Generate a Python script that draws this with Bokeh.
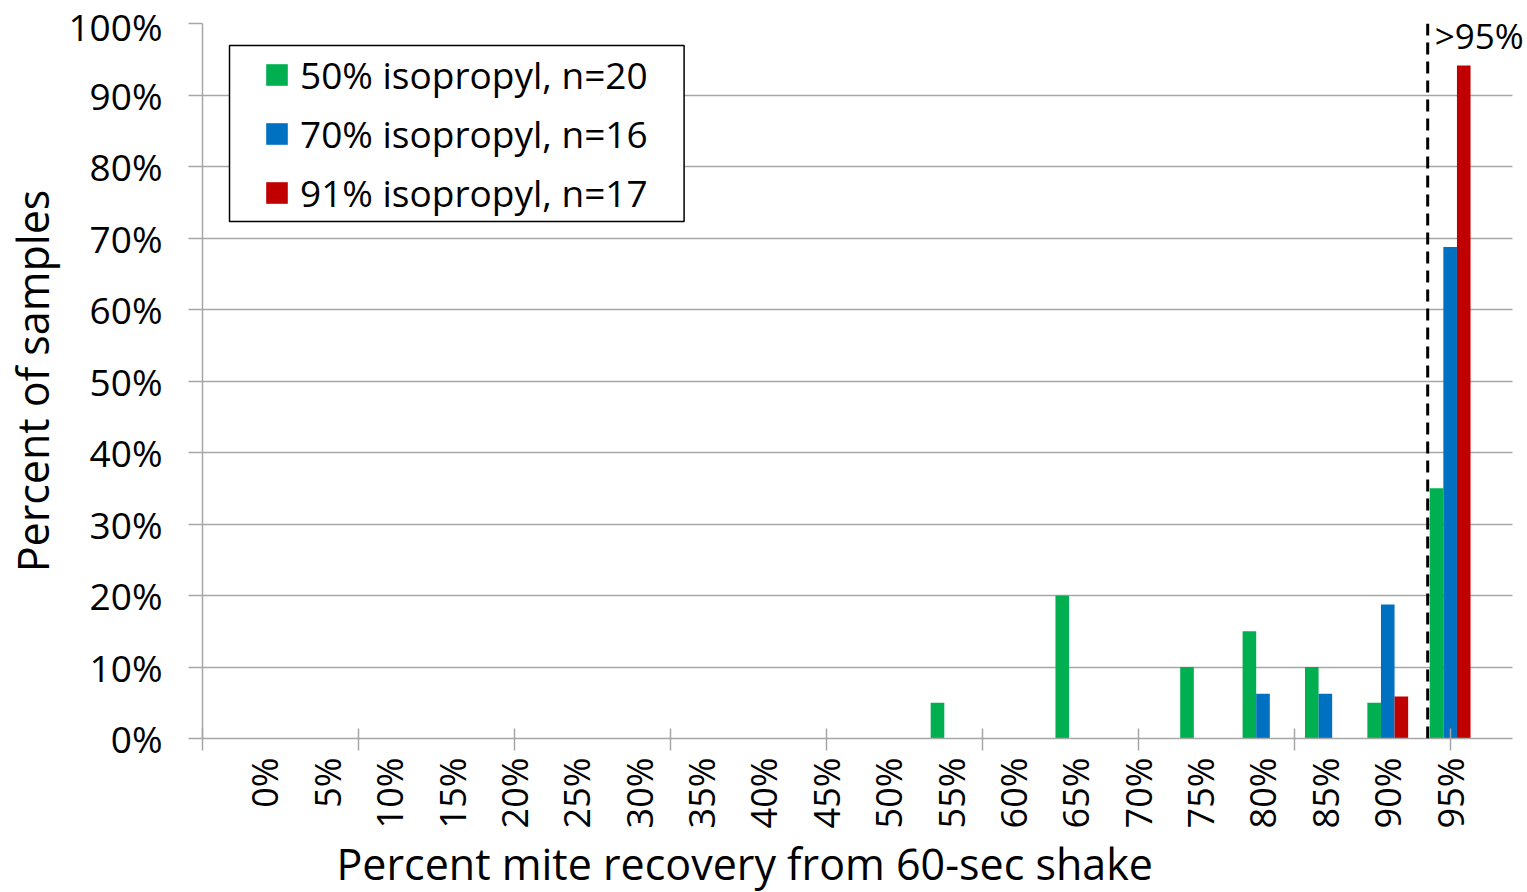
import math
from bokeh.plotting import figure
from bokeh.models import (Range1d, FixedTicker, LinearAxis, Span, Label, Legend, Grid,
                          LegendItem, BoxAnnotation, Title, ColumnDataSource)
from bokeh.transform import dodge
from bokeh.embed import file_html
from bokeh.resources import INLINE

# ---------------- data ----------------
categories = ["0%", "5%", "10%", "15%", "20%", "25%", "30%", "35%", "40%", "45%",
              "50%", "55%", "60%", "65%", "70%", "75%", "80%", "85%", "90%", "95%"]
cat_pos = list(range(len(categories)))
pct_50 = [0, 0, 0, 0, 0, 0, 0, 0, 0, 0, 0, 5, 0, 20, 0, 10, 15, 10, 5, 35]
pct_70 = [0, 0, 0, 0, 0, 0, 0, 0, 0, 0, 0, 0, 0, 0, 0, 0, 6.25, 6.25, 18.75, 68.75]
pct_91 = [0, 0, 0, 0, 0, 0, 0, 0, 0, 0, 0, 0, 0, 0, 0, 0, 0, 0, 5.88, 94.12]
series_names = ["50% isopropyl, n=20", "70% isopropyl, n=16", "91% isopropyl, n=17"]
series_keys = ["s50", "s70", "s91"]
y_ticks = [0, 10, 20, 30, 40, 50, 60, 70, 80, 90, 100]
y_tick_labels = ["0%", "10%", "20%", "30%", "40%", "50%", "60%", "70%", "80%", "90%", "100%"]
x_tick_marks = [-1, 1.5, 4, 6.5, 9, 11.5, 14, 16.5, 19]
threshold_x = 18.64
threshold_label = ">95%"
x_title = "Percent mite recovery from  60-sec shake"
y_title = "Percent of samples"

# ---------------- styles ----------------
FONT = "Open Sans"
COLORS = ["#00B050", "#0070C0", "#C00000"]
OFFSETS = [-0.218, 0.0, 0.218]
BAR_W = 0.218
GRID = "#a6a6a6"
TICK_FS = "37px"
XTICK_FS = "36px"
NOTE_FS = "35px"
TITLE_FS = "43px"
AXIS_BOUNDS = (-1, 20)          # visible axis / grid extent
VIEW_RANGE = (-1, 20.24)        # frame extends a bit further right for the ">95%" note

src = ColumnDataSource(dict(x=cat_pos, cat=categories, s50=pct_50, s70=pct_70, s91=pct_91))

p = figure(width=1527, height=892, x_range=Range1d(*VIEW_RANGE), y_range=Range1d(0, 100),
           output_backend="svg", toolbar_location=None,
           min_border_left=201, min_border_right=0, min_border_top=23, min_border_bottom=0)
p.outline_line_color = None
p.background_fill_color = "white"
p.border_fill_color = "white"

p.xgrid.visible = False
p.ygrid.ticker = FixedTicker(ticks=y_ticks)
p.ygrid.grid_line_color = GRID
p.ygrid.grid_line_width = 1.5
if "cross_bounds" in Grid.properties():
    p.ygrid.cross_bounds = AXIS_BOUNDS

renderers = []
for key, off, col in zip(series_keys, OFFSETS, COLORS):
    r = p.vbar(x=dodge("x", off), top=key, width=BAR_W, source=src,
               fill_color=col, line_color=None)
    renderers.append(r)

# y axis
yax = p.yaxis[0]
yax.ticker = FixedTicker(ticks=y_ticks)
yax.major_label_overrides = {t: l for t, l in zip(y_ticks, y_tick_labels)}
yax.minor_tick_line_color = None
yax.major_tick_in = 0
yax.major_tick_out = 14
yax.major_tick_line_color = GRID
yax.major_tick_line_width = 1.5
yax.axis_line_color = GRID
yax.axis_line_width = 1.5
yax.major_label_text_font = FONT
yax.major_label_text_font_size = TICK_FS
yax.major_label_text_color = "black"
yax.major_label_standoff = 26
yax.axis_label = y_title
yax.axis_label_text_font = FONT
yax.axis_label_text_font_size = TITLE_FS
yax.axis_label_text_font_style = "normal"
yax.axis_label_text_color = "black"
yax.axis_label_standoff = 3

# x axis A: tick marks only
xa = p.xaxis[0]
xa.ticker = FixedTicker(ticks=x_tick_marks)
xa.bounds = AXIS_BOUNDS
xa.minor_tick_line_color = None
xa.major_tick_in = 10
xa.major_tick_out = 12
xa.major_tick_line_color = GRID
xa.major_tick_line_width = 1.5
xa.axis_line_color = GRID
xa.axis_line_width = 1.5
xa.major_label_text_font_size = "1px"
xa.major_label_text_alpha = 0
xa.major_label_standoff = 0

# x axis B: category labels
xb = LinearAxis(ticker=FixedTicker(ticks=cat_pos),
                major_label_overrides={i: c for i, c in zip(cat_pos, categories)},
                axis_line_color=None, major_tick_line_color=None, minor_tick_line_color=None,
                major_tick_in=0, major_tick_out=0,
                major_label_orientation=math.pi / 2,
                major_label_text_font=FONT, major_label_text_font_size=XTICK_FS,
                major_label_text_color="black", major_label_standoff=7)
p.add_layout(xb, "below")

xt = Title(text=x_title, align="left", offset=134, text_font=FONT, text_font_size=TITLE_FS,
           text_font_style="normal", text_color="black", standoff=0)
p.add_layout(xt, "below")

# threshold line and label
p.add_layout(Span(location=threshold_x, dimension="height", line_color="black",
                  line_width=3, line_dash="12 7"))
p.add_layout(Label(x=threshold_x, y=100, x_offset=7, y_offset=-12, text=threshold_label,
                   text_font=FONT, text_font_size=NOTE_FS, text_color="black",
                   text_baseline="alphabetic"))

# legend box + legend
p.add_layout(BoxAnnotation(left=-0.567, right=6.72, top=96.92, bottom=72.3,
                           fill_color="white", fill_alpha=1, line_color="black",
                           line_width=1.5, line_alpha=1))
legend = Legend(items=[LegendItem(label=n, renderers=[r]) for n, r in zip(series_names, renderers)],
                location=(61, 516), padding=0, border_line_color=None,
                background_fill_alpha=0, glyph_width=27, glyph_height=27,
                label_standoff=10, spacing=0, label_height=59,
                label_text_font=FONT, label_text_font_size=TICK_FS, label_text_color="black")
p.add_layout(legend, "center")

open("out.html", "w").write(file_html(p, INLINE))
